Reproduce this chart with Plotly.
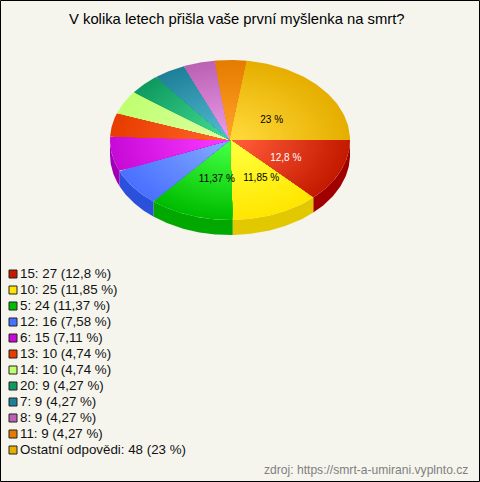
import numpy as np
import plotly.graph_objects as go

ANSWERS = ["15", "10", "5", "12", "6", "13", "14", "20", "7", "8", "11", "Ostatní odpovědi"]
COUNTS = [27, 25, 24, 16, 15, 10, 10, 9, 9, 9, 9, 48]
PERCENT = ["12,8", "11,85", "11,37", "7,58", "7,11", "4,74", "4,74", "4,27", "4,27", "4,27", "4,27", "23"]
LABELLED = [True, True, True, False, False, False, False, False, False, False, False, True]
LABEL_COLORS = ["white", "black", "black", "", "", "", "", "", "", "", "", "black"]
OUTER = ["#c41a00", "#ffe600", "#00bc00", "#4a70ff", "#c80ad8", "#e83c00", "#c0ff70", "#0f9a60",
         "#1f8098", "#bb62b4", "#e57c00", "#e6ae00"]
INNER = ["#ff5a38", "#ffff3c", "#40ff40", "#80a8ff", "#f838ff", "#ff6428", "#dcffa0", "#40d890",
         "#50b8d0", "#e898e8", "#ffa028", "#ffd838"]
SIDE = ["#a00000", "#e2c800", "#00a800", "#2a50dc", "#a000b4", "#b83000", "#90d040", "#087040",
        "#106070", "#904890", "#b86000", "#b88800"]
TITLE = "V kolika letech přišla vaše první myšlenka na smrt?"
SOURCE = "zdroj: https://smrt-a-umirani.vyplnto.cz"
BG = "#f5f5ee"

CX, CY, RX, RY, DEPTH = 230, 140, 120, 80, 15
STEPS = 40
LABEL_NUDGE = {0: 0, 1: 5, 2: 0, 11: -5}


def mix(a, b, t):
    ca = [int(a[i:i + 2], 16) for i in (1, 3, 5)]
    cb = [int(b[i:i + 2], 16) for i in (1, 3, 5)]
    return "rgb(%d,%d,%d)" % tuple(round(x + (y - x) * t) for x, y in zip(ca, cb))


total = sum(COUNTS)
edges = 2 * np.pi * np.concatenate([[0], np.cumsum(COUNTS)]) / total
fig = go.Figure()


def poly(xs, ys, color):
    fig.add_trace(go.Scatter(x=xs, y=ys, mode="lines", fill="toself", fillcolor=color,
                             line=dict(width=0), hoverinfo="skip", showlegend=False))


# wall of the disc: only the part facing the viewer
for a0, a1, c in zip(edges[:-1], edges[1:], SIDE):
    lo, hi = a0, min(a1, np.pi)
    if lo >= hi:
        continue
    t = np.linspace(lo, hi, 60)
    xs = CX + RX * np.cos(t)
    ys = CY + RY * np.sin(t)
    poly(np.r_[xs, xs[::-1], xs[0]], np.r_[ys, ys[::-1] + DEPTH, ys[0]], c)

# top: nested sectors give the radial shading
for a0, a1, co, ci in zip(edges[:-1], edges[1:], OUTER, INNER):
    t = np.linspace(a0, a1, 60)
    for k in range(STEPS):
        r = 1 - k / STEPS
        poly(np.r_[CX, CX + r * RX * np.cos(t), CX], np.r_[CY, CY + r * RY * np.sin(t), CY],
             mix(co, ci, min(1, (1 - r) / 0.9)))

# percent labels inside the pie
mids = (edges[:-1] + edges[1:]) / 2
for i, (m, p, show, lc) in enumerate(zip(mids, PERCENT, LABELLED, LABEL_COLORS)):
    if show:
        fig.add_trace(go.Scatter(x=[CX + 5 + LABEL_NUDGE[i] + 0.46 * RX * np.cos(m)],
                                 y=[CY + 4.5 + 0.46 * RY * np.sin(m)],
                                 mode="text", text=[p + " %"], textposition="middle center",
                                 textfont=dict(family="Liberation Sans", size=10, color=lc),
                                 hoverinfo="skip", showlegend=False))

# key below the pie
rows = [274 + 16 * i for i in range(len(ANSWERS))]
fig.add_trace(go.Scatter(x=[13] * len(rows), y=rows, mode="markers",
                         marker=dict(symbol="square", size=8, color=OUTER, line=dict(color="#222222", width=1)),
                         hoverinfo="skip", showlegend=False))
fig.add_trace(go.Scatter(x=[20] * len(rows), y=[r + 1 for r in rows], mode="text",
                         text=[f"{a}: {c} ({p} %)" for a, c, p in zip(ANSWERS, COUNTS, PERCENT)],
                         textposition="middle right",
                         textfont=dict(family="Liberation Sans", size=13.33, color="#111111"),
                         hoverinfo="skip", showlegend=False))

axis = dict(visible=False, fixedrange=True)
fig.update_layout(
    width=480, height=482, margin=dict(l=0, r=0, t=0, b=0),
    paper_bgcolor=BG, plot_bgcolor=BG, template=None,
    xaxis=dict(range=[0, 480], **axis), yaxis=dict(range=[482, 0], **axis),
    shapes=[dict(type="rect", xref="x", yref="y", x0=0.5, y0=0.5, x1=479.5, y1=481.5,
                 line=dict(color="black", width=1))],
    annotations=[
        dict(x=236.5, y=19, xref="x", yref="y", text=TITLE, showarrow=False,
             font=dict(family="Liberation Sans", size=14.8, color="black")),
        dict(x=470, y=470, xref="x", yref="y", text=SOURCE, showarrow=False, xanchor="right",
             font=dict(family="Liberation Sans", size=12.1, color="#808080")),
    ],
)
fig.write_html("out.html", config={"displayModeBar": False},
               post_script="document.body.style.margin='0';document.body.style.overflow='hidden';")
